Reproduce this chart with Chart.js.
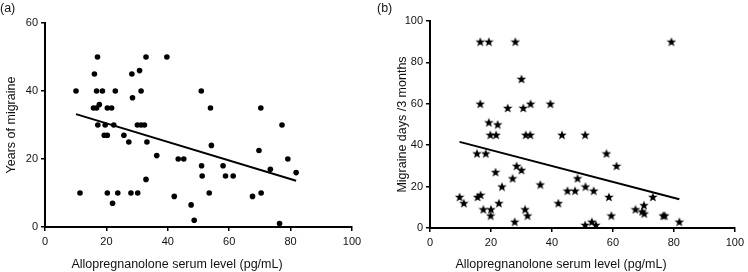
<!DOCTYPE html>
<html>
<head>
<meta charset="utf-8">
<script src="https://cdn.jsdelivr.net/npm/chart.js@4.4.1/dist/chart.umd.min.js"></script>
<style>
  body { margin: 0; background: #fff; }
  #wrap { position: relative; width: 748px; height: 272px; font-family: "Liberation Sans", Arial, sans-serif; color: #111; }
  canvas { position: absolute; top: 0; }
  .lbl { position: absolute; font-size: 12.5px; white-space: nowrap; }
  .xt { width: 300px; text-align: center; top: 257px; }
</style>
</head>
<body>
<div id="wrap">
  <canvas id="chartA" width="374" height="272" style="left:0"></canvas>
  <canvas id="chartB" width="374" height="272" style="left:374px"></canvas>
  <div class="lbl" style="left:0;top:1px">(a)</div>
  <div class="lbl" style="left:377px;top:1px">(b)</div>
  <div class="lbl xt" style="left:27px">Allopregnanolone serum level (pg/mL)</div>
  <div class="lbl xt" style="left:411px">Allopregnanolone serum level (pg/mL)</div>
</div>
<script>
// (a) years of migraine vs allopregnanolone
const yearsX = [10.1, 11.4, 15.8, 16.1, 16.8, 17.1, 16.8, 17.2, 17.7, 18.7, 19.6, 19.3, 20.3, 20.3, 21.7, 20.3, 22.0, 22.4, 22.9, 23.7,
    25.7, 27.3, 28.0, 28.3, 28.5, 30.1, 30.8, 30.2, 31.3, 31.3, 32.4, 32.9, 32.9, 33.2, 36.4, 39.7, 42.1, 43.4, 45.2, 47.6,
    48.6, 50.9, 51.0, 51.2, 53.5, 53.9, 54.2, 58.0, 58.8, 61.3, 67.6, 69.7, 70.3, 70.4, 73.4, 76.4, 77.2, 79.1, 81.8];
const yearsY = [40, 10, 35, 45, 35, 50, 40, 30, 36, 40, 30, 27, 27, 35, 35, 10, 7, 30, 40, 10,
    27, 25, 10, 45, 38, 30, 46, 10, 40, 30, 30, 50, 14, 25, 21, 50, 9, 20, 20, 6.5,
    2, 40, 18, 15, 10, 35, 24, 18, 15, 15, 9, 22.5, 35, 10, 17, 1, 30, 20, 16];
const yearsFitX = [10.1, 81.8];
const yearsFitY = [33.2, 13.6];

// (b) migraine days / 3 months vs allopregnanolone
const daysX = [9.7, 11.1, 15.4, 15.6, 16.6, 16.5, 16.5, 19.3, 17.5, 19.3, 19.8, 21.7, 22.2, 20.0, 19.9, 18.3, 21.5, 22.6, 23.6, 25.5,
    27.1, 28.0, 27.8, 28.4, 30.0, 30.0, 30.6, 31.2, 31.4, 32.0, 32.9, 33.0, 36.2, 39.5, 42.1, 43.3, 45.1, 47.6, 48.4, 50.9,
    51.0, 50.9, 53.1, 53.7, 54.4, 57.9, 58.7, 59.5, 61.2, 67.4, 69.6, 70.2, 70.3, 73.1, 76.5, 77.0, 79.2, 81.8];
const daysY = [15, 12, 36, 15, 16, 60, 90, 90, 9, 51, 45, 45, 50, 9, 6, 36, 27, 12, 20, 58,
    24, 90, 3, 30, 72, 28, 58, 9, 45, 6, 45, 60, 21, 60, 12, 45, 18, 18, 24, 45,
    20, 1.5, 3, 18, 1.5, 36, 15, 6, 30, 9, 8, 11, 7, 15, 6, 6, 90, 3];
const daysFitX = [9.7, 81.8];
const daysFitY = [41.6, 13.9];

const xTicks = [0, 20, 40, 60, 80, 100];

Chart.defaults.font.family = '"Liberation Sans", Arial, sans-serif';
Chart.defaults.color = '#111';
Chart.defaults.animation = false;

const toPoints = (xs, ys) => xs.map((x, i) => ({ x: x, y: ys[i] }));

// filled five-pointed star for panel (b)
const star = document.createElement('canvas');
star.width = 10;
star.height = 10;
(function () {
    const c = star.getContext('2d');
    c.fillStyle = '#000';
    c.beginPath();
    for (let i = 0; i < 10; i++) {
        const r = i % 2 === 0 ? 5 : 2.1;
        const a = -Math.PI / 2 + i * Math.PI / 5;
        const px = 5 + r * Math.cos(a), py = 5.4 + r * Math.sin(a);
        if (i === 0) c.moveTo(px, py); else c.lineTo(px, py);
    }
    c.closePath();
    c.fill();
})();

function makeChart(id, pts, fit, yMax, yStep, yTitle, pad, yWidth, xHeight, titlePad, pointOpts) {
    return new Chart(document.getElementById(id), {
        type: 'scatter',
        data: {
            datasets: [
                Object.assign({ data: pts, order: 2 }, pointOpts),
                {
                    type: 'line',
                    data: fit,
                    borderColor: '#000',
                    borderWidth: 2,
                    pointRadius: 0,
                    fill: false,
                    order: 1
                }
            ]
        },
        options: {
            responsive: false,
            layout: { padding: pad },
            plugins: { legend: { display: false }, tooltip: { enabled: false } },
            scales: {
                x: {
                    type: 'linear',
                    min: 0, max: 100,
                    afterBuildTicks: s => { s.ticks = xTicks.map(v => ({ value: v })); },
                    ticks: { font: { size: 11 }, padding: 4, maxRotation: 0 },
                    grid: { drawOnChartArea: false, tickLength: 4, color: '#000', lineWidth: 1.5 },
                    border: { color: '#000', width: 2 },
                    afterFit: s => { s.height = xHeight; }
                },
                y: {
                    min: 0, max: yMax,
                    ticks: { stepSize: yStep, font: { size: 11 }, padding: 3 },
                    grid: { drawOnChartArea: false, tickLength: 4, color: '#000', lineWidth: 1.5 },
                    border: { color: '#000', width: 2 },
                    title: { display: true, text: yTitle, font: { size: 12.5 }, padding: { top: titlePad, bottom: 0 } },
                    afterFit: s => { s.width = yWidth; }
                }
            }
        }
    });
}

makeChart('chartA', toPoints(yearsX, yearsY), toPoints(yearsFitX, yearsFitY), 60, 20, 'Years of migraine',
    { top: 23, right: 22, bottom: 0, left: 0 }, 45, 45, 4,
    { pointStyle: 'circle', pointRadius: 2.8, backgroundColor: '#000', borderWidth: 0 });

makeChart('chartB', toPoints(daysX, daysY), toPoints(daysFitX, daysFitY), 100, 20, 'Migraine days /3 months',
    { top: 21, right: 9, bottom: 0, left: 0 }, 56, 44, 21,
    { pointStyle: star, pointRadius: 5 });
</script>
</body>
</html>
